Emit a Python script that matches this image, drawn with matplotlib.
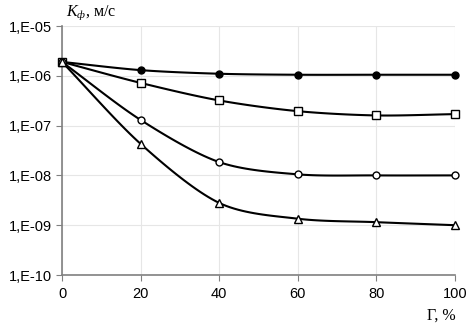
import numpy as np
import matplotlib
matplotlib.use("Agg")
import matplotlib.pyplot as plt
from matplotlib.ticker import FixedLocator, FuncFormatter

x = [0, 20, 40, 60, 80, 100]
s_filled = [1.9e-6, 1.3e-6, 1.1e-6, 1.05e-6, 1.05e-6, 1.05e-6]
s_square = [1.9e-6, 7.2e-7, 3.2e-7, 1.95e-7, 1.6e-7, 1.7e-7]
s_circle = [1.9e-6, 1.3e-7, 1.85e-8, 1.05e-8, 1.0e-8, 1.0e-8]
s_tri = [1.9e-6, 4.3e-8, 2.8e-9, 1.35e-9, 1.15e-9, 1.0e-9]
yticks = [1e-10, 1e-9, 1e-8, 1e-7, 1e-6, 1e-5]
xticks = [0, 20, 40, 60, 80, 100]

plt.rcParams['font.family'] = ['Liberation Sans', 'DejaVu Sans']
plt.rcParams['mathtext.fontset'] = 'custom'
plt.rcParams['mathtext.rm'] = 'Liberation Serif'
plt.rcParams['mathtext.it'] = 'Liberation Serif:italic'

def smooth(xs, ys, n=20):
    xs = np.asarray(xs, float)
    ly = np.log10(np.asarray(ys, float))
    px = np.concatenate([[2*xs[0]-xs[1]], xs, [2*xs[-1]-xs[-2]]])
    py = np.concatenate([[2*ly[0]-ly[1]], ly, [2*ly[-1]-ly[-2]]])
    ox, oy = [], []
    for i in range(1, len(px)-2):
        t = np.linspace(0, 1, n, endpoint=False)
        for P, out in ((px, ox), (py, oy)):
            p0, p1, p2, p3 = P[i-1], P[i], P[i+1], P[i+2]
            m1 = (p2 - p0) / 2 * 0.9
            m2 = (p3 - p1) / 2 * 0.9
            h00 = 2*t**3 - 3*t**2 + 1
            h10 = t**3 - 2*t**2 + t
            h01 = -2*t**3 + 3*t**2
            h11 = t**3 - t**2
            out.extend(h00*p1 + h10*m1 + h01*p2 + h11*m2)
    ox.append(xs[-1]); oy.append(ly[-1])
    return np.array(ox), 10**np.array(oy)

fig = plt.figure(figsize=(4.73, 3.3), dpi=100)
ax = fig.add_axes([62/473, 1-275/330, (455-62)/473, (275-26)/330])
ax.set_yscale('log')
ax.set_xlim(0, 100)
ax.set_ylim(1e-10, 1e-5)

series = [
    (s_filled, 'o', 'black', 5),
    (s_square, 's', 'white', 5.5),
    (s_circle, 'o', 'white', 5),
    (s_tri, '^', 'white', 5.5),
]
for ys, m, fc, ms in series:
    sx, sy = smooth(x, ys)
    ax.plot(sx, sy, color='black', lw=1.5, zorder=3, clip_on=False)
    ax.plot(x, ys, linestyle='none', marker=m, markerfacecolor=fc,
            markeredgecolor='black', markersize=ms, markeredgewidth=1.0,
            zorder=4, clip_on=False)

ax.yaxis.set_major_locator(FixedLocator(yticks))
ax.yaxis.set_minor_locator(FixedLocator([]))
ax.yaxis.set_major_formatter(FuncFormatter(lambda v, p: "1,E-%02d" % round(-np.log10(v))))
ax.set_xticks(xticks)
ax.grid(True, color='#e6e6e6', lw=0.8, zorder=0)
ax.set_axisbelow(True)
for s in ['top', 'right']:
    ax.spines[s].set_visible(False)
for s in ['left', 'bottom']:
    ax.spines[s].set_color('#808080')
    ax.spines[s].set_linewidth(1.2)
ax.tick_params(axis='both', direction='out', length=4, color='#808080',
               labelsize=10.5, labelcolor='black')
ax.tick_params(axis='y', pad=3)
ax.tick_params(axis='x', pad=5)

fig.text(66/473, 1-13/330, r"$K_{ф}$, м/с", fontsize=11.5, family=['Liberation Serif', 'DejaVu Serif'],
         ha='left', va='center')
fig.text(456/473, 1-316/330, "Γ, %", fontsize=11.5, family=['Liberation Serif', 'DejaVu Serif'],
         ha='right', va='center')

fig.savefig("out.png", dpi=100)
